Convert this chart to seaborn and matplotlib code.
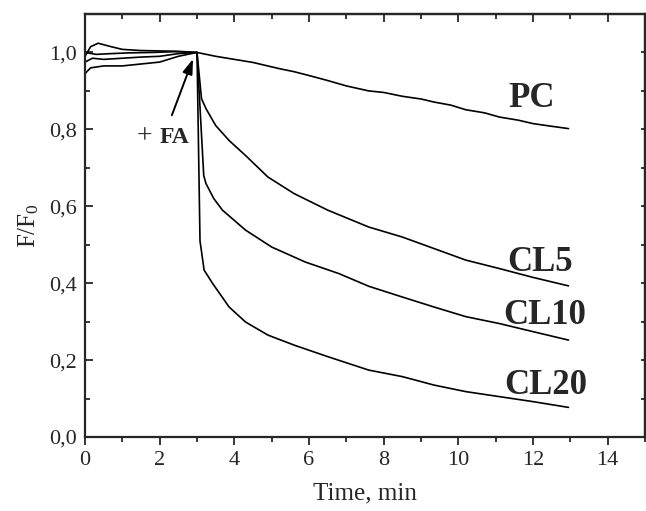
import pandas as pd
import matplotlib
matplotlib.use("Agg")
import matplotlib.pyplot as plt
from matplotlib.ticker import MultipleLocator, FuncFormatter
import seaborn as sns

# ------------------------- Data -------------------------

series = ["PC", "CL5", "CL10", "CL20"]

pc_t = [0.0, 0.15, 0.35, 0.7, 1.0, 1.5, 2.0, 2.5, 3.0, 3.5, 4.0, 4.5, 5.2, 5.6, 6.0,
        6.5, 7.0, 7.6, 8.0, 8.5, 9.0, 9.35, 9.8, 10.2, 10.7, 11.1, 11.6, 12.0, 12.5, 12.95]
pc_v = [0.99, 1.015, 1.024, 1.015, 1.008, 1.005, 1.004, 1.003, 1.0, 0.99, 0.982, 0.974, 0.958, 0.95, 0.94,
        0.927, 0.913, 0.9, 0.896, 0.886, 0.879, 0.871, 0.863, 0.851, 0.843, 0.832, 0.824, 0.815, 0.808, 0.802]

cl5_t = [0.0, 0.3, 0.7, 1.2, 1.8, 2.4, 3.0, 3.12, 3.24, 3.5, 3.86, 4.3, 4.9, 5.6, 6.5, 7.6,
         8.5, 9.35, 10.2, 11.1, 12.0, 12.95]
cl5_v = [1.0, 0.995, 0.997, 0.999, 1.0, 1.002, 1.0, 0.88, 0.854, 0.81, 0.771, 0.732, 0.676, 0.633, 0.59, 0.546,
         0.52, 0.49, 0.46, 0.438, 0.415, 0.393]

cl10_t = [0.0, 0.2, 0.5, 1.0, 1.5, 2.0, 2.5, 3.0, 3.18, 3.24, 3.45, 3.68, 4.3, 5.0, 5.9, 6.8,
          7.6, 8.5, 9.35, 10.2, 11.1, 12.0, 12.95]
cl10_v = [0.975, 0.985, 0.982, 0.985, 0.988, 0.99, 0.997, 1.0, 0.68, 0.659, 0.62, 0.59, 0.538, 0.494, 0.455, 0.425,
          0.392, 0.364, 0.338, 0.313, 0.295, 0.274, 0.252]

cl20_t = [0.0, 0.15, 0.5, 1.0, 1.5, 2.0, 2.5, 3.0, 3.08, 3.19, 3.42, 3.86, 4.3, 4.9, 5.6, 6.5,
          7.6, 8.5, 9.35, 10.2, 11.1, 12.0, 12.95]
cl20_v = [0.945, 0.96, 0.965, 0.965, 0.97, 0.975, 0.99, 1.0, 0.51, 0.434, 0.399, 0.338, 0.299, 0.265, 0.239, 0.209,
          0.174, 0.157, 0.135, 0.118, 0.105, 0.092, 0.077]

label_x = [11.95, 12.2, 12.3, 12.35]
label_y = [0.88, 0.455, 0.315, 0.135]

rows = []
for name, ts, vs in zip(series, [pc_t, cl5_t, cl10_t, cl20_t], [pc_v, cl5_v, cl10_v, cl20_v]):
    for t, v in zip(ts, vs):
        rows.append({"series": name, "time": t, "value": v})
df = pd.DataFrame(rows)

# ------------------------- Style -------------------------

sns.set_style("ticks")
plt.rcParams["font.family"] = ["Liberation Serif", "DejaVu Serif"]
plt.rcParams["mathtext.fontset"] = "custom"
plt.rcParams["mathtext.rm"] = "Liberation Serif"
plt.rcParams["mathtext.it"] = "Liberation Serif"

fig = plt.figure(figsize=(6.46, 5.11), dpi=100)
ax = fig.add_axes([0.1316, 0.1448, 0.8669, 0.8278])

sns.lineplot(data=df, x="time", y="value", hue="series", units="series",
             estimator=None, sort=False, palette=["black"] * 4,
             linewidth=1.2, legend=False, ax=ax)

ax.set_xlim(0, 15)
ax.set_ylim(0, 1.1)

ax.xaxis.set_major_locator(MultipleLocator(2))
ax.xaxis.set_minor_locator(MultipleLocator(1))
ax.yaxis.set_major_locator(MultipleLocator(0.2))
ax.yaxis.set_minor_locator(MultipleLocator(0.1))
ax.yaxis.set_major_formatter(FuncFormatter(lambda v, p: f"{v:.1f}".replace(".", ",")))

ax.tick_params(axis="x", which="major", direction="out", length=6, width=1.3, labelsize=16, pad=4)
ax.tick_params(axis="x", which="minor", direction="out", length=3.5, width=1.3)
ax.tick_params(axis="y", which="major", direction="in", length=6, width=1.3, labelsize=16, pad=6)
ax.tick_params(axis="y", which="minor", direction="in", length=3.5, width=1.3)

for s in ax.spines.values():
    s.set_linewidth(1.6)
    s.set_visible(True)

top = ax.secondary_xaxis("top")
top.xaxis.set_major_locator(MultipleLocator(2))
top.xaxis.set_minor_locator(MultipleLocator(1))
top.tick_params(which="major", direction="in", length=6, width=1.3, labeltop=False)
top.tick_params(which="minor", direction="in", length=3.5, width=1.3)
top.spines["top"].set_linewidth(1.6)

right = ax.secondary_yaxis("right")
right.yaxis.set_major_locator(MultipleLocator(0.1))
right.tick_params(which="major", direction="in", length=3, width=1.3, labelright=False)
right.spines["right"].set_linewidth(1.6)

ax.set_xlabel("Time, min", fontsize=18, labelpad=9)
ax.set_ylabel(r"F/F$_{\mathregular{0}}$", fontsize=18, labelpad=6)

for name, lx, ly in zip(series, label_x, label_y):
    ax.text(lx, ly, name, fontsize=25, fontweight="bold", ha="center", va="center")

ax.annotate("", xy=(2.92, 0.99), xytext=(2.3, 0.83),
            arrowprops=dict(arrowstyle="-|>,head_length=0.9,head_width=0.3", color="black", lw=1.4))
ax.text(1.8, 0.78, "+", fontsize=20, ha="right", va="center")
ax.text(2.0, 0.78, "FA", fontsize=17, fontweight="bold", ha="left", va="center")

plt.savefig("out.png", dpi=100)
